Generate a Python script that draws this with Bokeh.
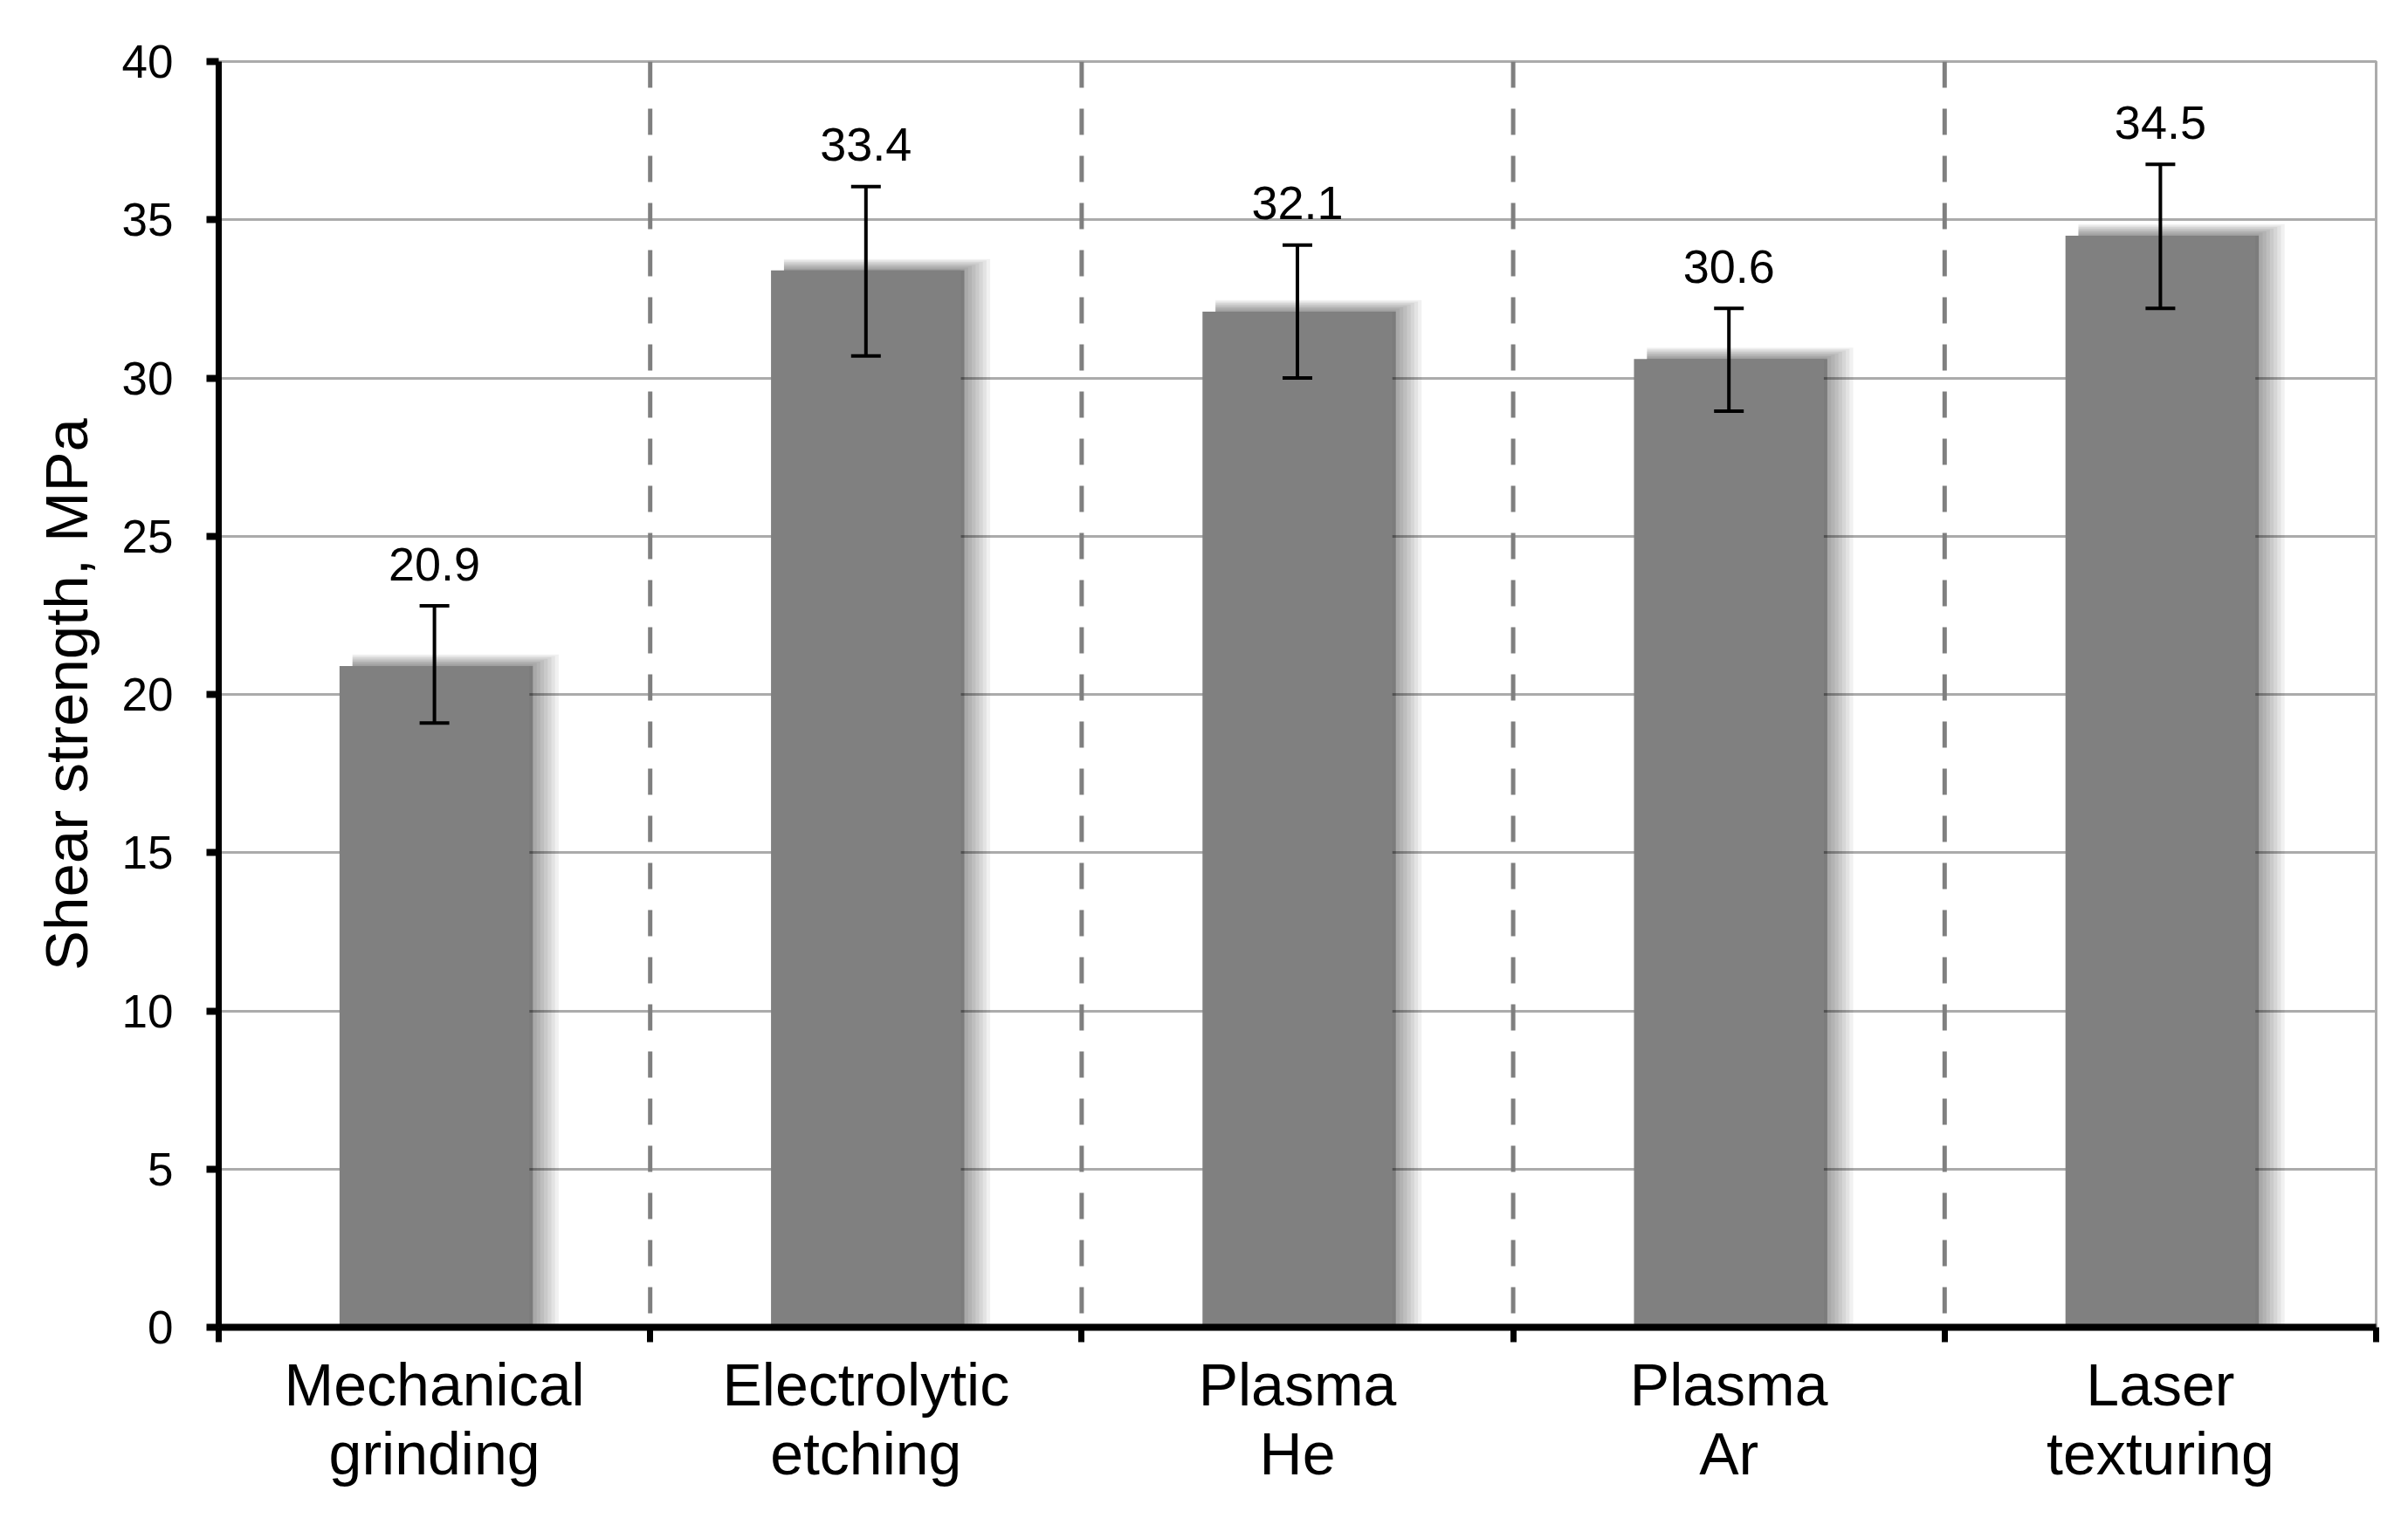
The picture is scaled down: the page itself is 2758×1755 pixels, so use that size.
from bokeh.plotting import figure
from bokeh.models import (ColumnDataSource, Range1d, FixedTicker, Span, Whisker, TeeHead)
from bokeh.transform import dodge
from bokeh.core.properties import value
from bokeh.embed import file_html
from bokeh.resources import INLINE

# ---- data ----
categories = ["Mechanical\ngrinding", "Electrolytic\netching", "Plasma\nHe", "Plasma\nAr", "Laser\ntexturing"]
strength = [20.9, 33.4, 32.1, 30.6, 34.5]
err_low = [19.1, 30.7, 30.0, 28.95, 32.2]
err_high = [22.8, 36.05, 34.2, 32.2, 36.75]
y_ticks = [0, 5, 10, 15, 20, 25, 30, 35, 40]

FONT = "Liberation Sans"
n = len(categories)
xs = [i + 0.5 for i in range(n)]
src = ColumnDataSource(dict(
    x=xs, val=strength, lo=err_low, hi=err_high,
    label=[f"{v:.1f}" for v in strength],
))

p = figure(width=2742, height=1739,
           x_range=Range1d(0, n), y_range=Range1d(0, 40),
           output_backend="svg", toolbar_location=None,
           min_border_left=250, min_border_right=21,
           min_border_top=70, min_border_bottom=219)
p.background_fill_color = "white"
p.border_fill_color = "white"
p.outline_line_color = "#ABABAB"
p.outline_line_width = 3

# grid
p.xgrid.visible = False
p.ygrid.ticker = FixedTicker(ticks=y_ticks)
p.ygrid.grid_line_color = "#ABABAB"
p.ygrid.grid_line_width = 3

# separators between categories
for i in range(1, n):
    p.add_layout(Span(location=i, dimension="height", line_color="#7F7F7F",
                      line_width=5, line_dash="30 24"))

# soft shadow on the right/top of bars
bw = 0.44
steps = 8
for k in range(steps, 0, -1):
    p.quad(left=dodge("x", -bw / 2 + 0.03), right=dodge("x", bw / 2 + k * 0.0085),
           top=dodge("val", k * 0.045), bottom=0,
           source=src, fill_color="black", fill_alpha=0.055, line_color=None)
p.quad(left=dodge("x", -bw / 2 + 0.03), right=dodge("x", bw / 2 + 0.008),
       top="val", bottom=0,
       source=src, fill_color="black", fill_alpha=0.22, line_color=None)

# bars
p.vbar(x="x", top="val", width=bw, source=src, fill_color="#808080", line_color=None)

# error bars
w = Whisker(base="x", lower="lo", upper="hi", source=src, level="overlay",
            line_color="black", line_width=4,
            lower_head=TeeHead(size=34, line_width=4, line_color="black"),
            upper_head=TeeHead(size=34, line_width=4, line_color="black"))
p.add_layout(w)

# value labels
p.text(x="x", y="hi", text="label", source=src, y_offset=-48,
       text_align="center", text_baseline="middle",
       text_font=value(FONT), text_font_size="54px", text_color="black")

# y axis
ya = p.yaxis[0]
ya.ticker = FixedTicker(ticks=y_ticks)
ya.axis_line_width = 7
ya.axis_line_color = "black"
ya.major_tick_line_width = 8
ya.major_tick_line_color = "black"
ya.major_tick_out = 14
ya.major_tick_in = 0
ya.minor_tick_line_color = None
ya.major_label_standoff = 38
ya.major_label_text_font = FONT
ya.major_label_text_font_size = "53px"
ya.major_label_text_color = "black"
ya.axis_label = "Shear strength, MPa"
ya.axis_label_text_font = FONT
ya.axis_label_text_font_size = "69px"
ya.axis_label_text_font_style = "normal"
ya.axis_label_text_color = "black"
ya.axis_label_standoff = 22

# x axis
xa = p.xaxis[0]
xa.ticker = FixedTicker(ticks=xs, minor_ticks=list(range(n + 1)))
xa.major_label_overrides = {x: c for x, c in zip(xs, categories)}
xa.axis_line_width = 8
xa.axis_line_color = "black"
xa.major_tick_line_color = None
xa.major_tick_out = 0
xa.major_tick_in = 0
xa.minor_tick_line_color = "black"
xa.minor_tick_line_width = 7
xa.minor_tick_out = 17
xa.minor_tick_in = 0
xa.major_label_standoff = 10
xa.major_label_text_font = FONT
xa.major_label_text_font_size = "68px"
xa.major_label_text_color = "black"
xa.major_label_text_line_height = 1.05

open("out.html", "w").write(file_html(p, INLINE))
